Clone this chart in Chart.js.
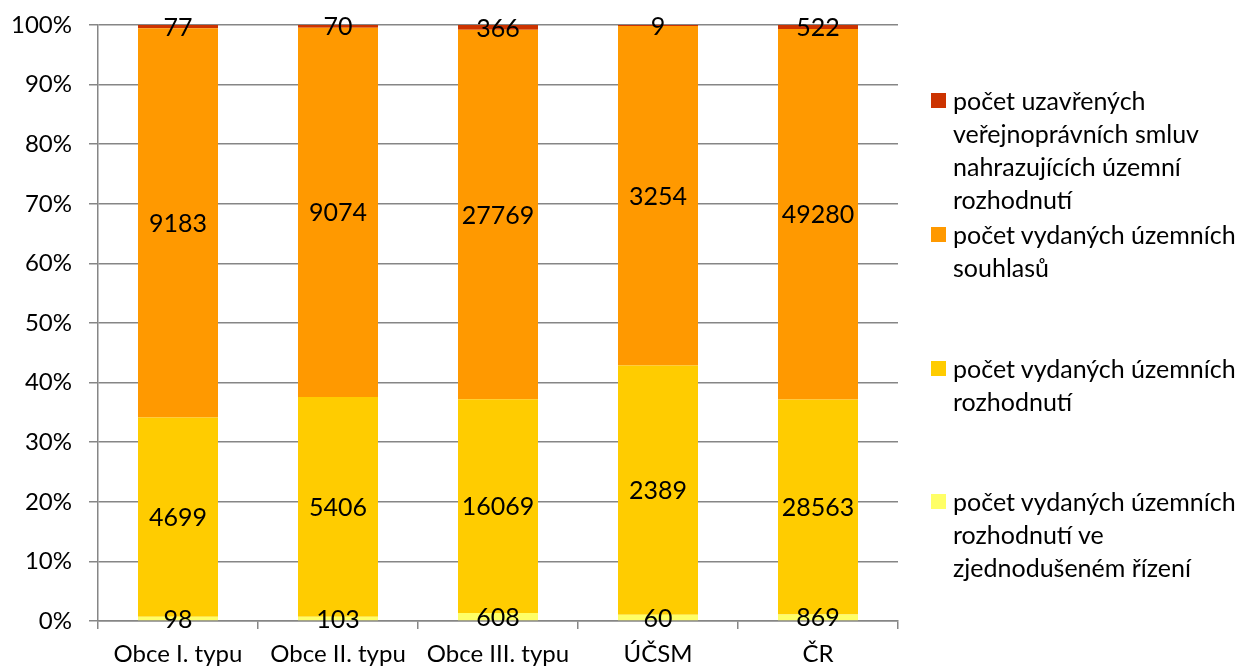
<!DOCTYPE html>
<html>
<head>
<meta charset="utf-8">
<script src="https://cdn.jsdelivr.net/npm/chart.js@4/dist/chart.umd.min.js"></script>
<style>
  body { margin: 0; background: #fff; }
  #wrap { position: relative; width: 1245px; height: 669px; }
  .leg { position: absolute; left: 931px; font-family: Lato, sans-serif; font-size: 25px; line-height: 33px; color: #000; }
  .leg i { position: absolute; left: 0; top: 9px; width: 15px; height: 15px; }
  .leg span { display: block; margin-left: 22px; white-space: nowrap; }
</style>
</head>
<body>
<div id="wrap">
  <canvas id="myChart" width="1245" height="669"></canvas>
  <div id="legend"></div>
</div>
<script>
let categories = ["Obce I. typu", "Obce II. typu", "Obce III. typu", "ÚČSM", "ČR"];
let simplified = [98, 103, 608, 60, 869];
let decisions = [4699, 5406, 16069, 2389, 28563];
let consents = [9183, 9074, 27769, 3254, 49280];
let contracts = [77, 70, 366, 9, 522];
let seriesNames = [
  "počet vydaných územních rozhodnutí ve zjednodušeném řízení",
  "počet vydaných územních rozhodnutí",
  "počet vydaných územních souhlasů",
  "počet uzavřených veřejnoprávních smluv nahrazujících územní rozhodnutí"
];
let colorHex = ['#FFFF66', '#FFCC00', '#FF9900', '#CC3300'];

let raw = [simplified, decisions, consents, contracts];
let totals = categories.map((c, i) => raw.reduce((s, arr) => s + arr[i], 0));

let ctx = document.getElementById('myChart').getContext('2d');
const FONT = "Lato, sans-serif";

// draws the raw count in the middle of each segment
const valueLabels = {
  id: 'valueLabels',
  afterDatasetsDraw(chart) {
    let c = chart.ctx;
    c.save();
    c.font = "25px " + FONT;
    c.fillStyle = '#000';
    c.textAlign = 'center';
    c.textBaseline = 'middle';
    chart.data.datasets.forEach((ds, di) => {
      chart.getDatasetMeta(di).data.forEach((bar, i) => {
        let p = bar.getProps(['x', 'y', 'base'], true);
        c.fillText(String(ds.raw[i]), p.x, (p.y + p.base) / 2 + 1);
      });
    });
    c.restore();
  }
};

let myChart = new Chart(ctx, {
  type: 'bar',
  data: {
    labels: categories,
    datasets: raw.map((arr, k) => ({
      label: seriesNames[k],
      raw: arr,
      data: arr.map((v, i) => v / totals[i] * 100),
      backgroundColor: colorHex[k],
      borderWidth: 0,
      barPercentage: 0.5,
      categoryPercentage: 1
    }))
  },
  options: {
    responsive: false,
    animation: false,
    layout: { padding: { left: 0, right: 347, top: 0, bottom: 0 } },
    plugins: {
      legend: { display: false },
      tooltip: { enabled: false }
    },
    scales: {
      x: {
        stacked: true,
        grid: { drawOnChartArea: false, drawTicks: true, tickLength: 8, color: '#868686', lineWidth: 1.5, offset: true },
        border: { display: true, color: '#868686', width: 1.5 },
        ticks: { color: '#000', padding: 11, font: { size: 24, family: FONT } },
        afterFit(scale) { scale.height = 48; }
      },
      y: {
        stacked: true,
        min: 0,
        max: 100,
        grid: { color: '#868686', lineWidth: 1.5, tickLength: 9 },
        border: { display: true, color: '#868686', width: 1.5 },
        ticks: {
          stepSize: 10,
          color: '#000',
          padding: 17,
          // small lineHeight only to keep the top of the plot at the same place as the original
          font: { size: 24, family: FONT, lineHeight: 0.667 },
          callback: v => v + '%'
        },
        afterFit(scale) { scale.width = 98; }
      }
    }
  },
  plugins: [valueLabels]
});

// legend, top series first, placed like the original
let legendItems = [
  { color: colorHex[3], top: 84, lines: ["počet uzavřených", "veřejnoprávních smluv", "nahrazujících územní", "rozhodnutí"] },
  { color: colorHex[2], top: 218, lines: ["počet vydaných územních", "souhlasů"] },
  { color: colorHex[1], top: 352, lines: ["počet vydaných územních", "rozhodnutí"] },
  { color: colorHex[0], top: 485, lines: ["počet vydaných územních", "rozhodnutí ve", "zjednodušeném řízení"] }
];
let legendEl = document.getElementById('legend');
legendItems.forEach(it => {
  let d = document.createElement('div');
  d.className = 'leg';
  d.style.top = it.top + 'px';
  d.innerHTML = '<i style="background:' + it.color + '"></i>' + it.lines.map(l => '<span>' + l + '</span>').join('');
  legendEl.appendChild(d);
});
</script>
</body>
</html>
